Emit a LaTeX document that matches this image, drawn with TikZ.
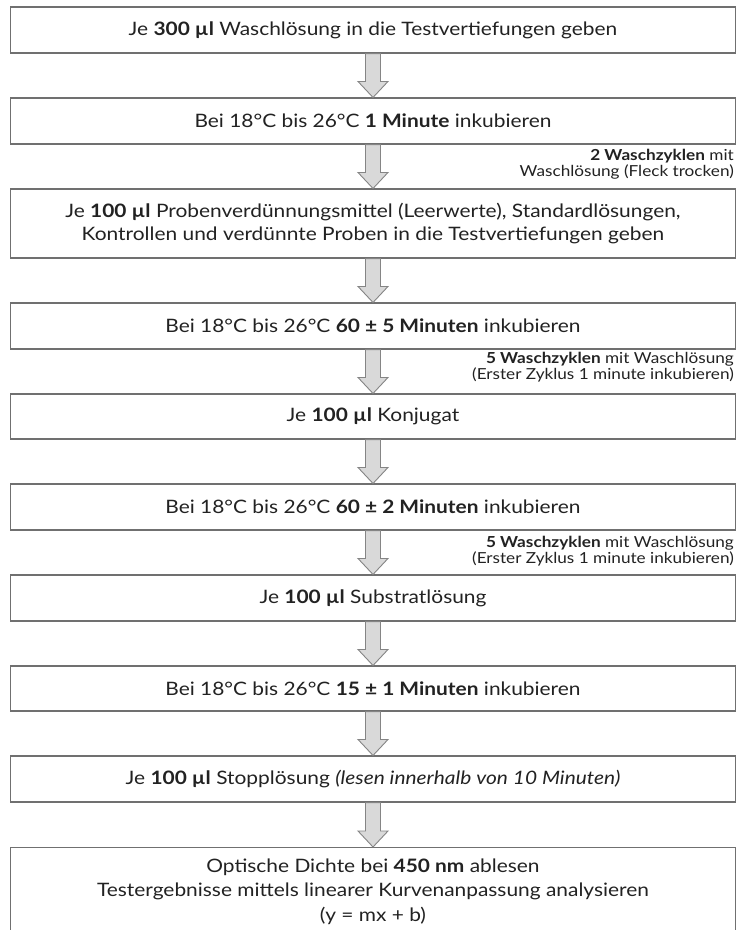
\documentclass[tikz,border=0pt]{standalone}
\usepackage{fontspec}
\setmainfont{Lato}[FakeStretch=1.13]
\usetikzlibrary{calc}
\definecolor{boxline}{HTML}{707070}
\definecolor{arrfill}{HTML}{D9D9D9}
\definecolor{arrline}{HTML}{858585}
\definecolor{txt}{HTML}{222222}
\tikzset{
  stepbox/.style={draw=boxline, line width=1.1pt, minimum width=725pt, align=center,
    text=txt, font=\fontsize{18.5}{23}\selectfont, inner sep=0pt},
  sidenote/.style={anchor=east, align=right, text=txt, font=\fontsize{15.2}{16}\selectfont, inner sep=0pt},
  flowarr/.style={draw=arrline, fill=arrfill, line width=0.9pt, line join=miter}
}
\newcommand{\flowarrow}[2]{%
  \draw[flowarr] ($(#1.south)+(-7.5,0)$) -- ($(#2.north)+(-7.5,-16)$) -- ($(#2.north)+(-15,-16)$)
    -- ($(#2.north)+(0,0)$) -- ($(#2.north)+(15,-16)$) -- ($(#2.north)+(7.5,-16)$)
    -- ($(#1.south)+(7.5,0)$) -- cycle;}
\begin{document}
\begin{tikzpicture}[x=1pt,y=-1pt]
\useasboundingbox (0,0) rectangle (736,930);
\fill[white] (0,0) rectangle (736,930);
\node[stepbox, minimum height=46pt] (b1) at (373,30) {Je \textbf{300 µl} Waschlösung in die Testvertiefungen geben};
\node[stepbox, minimum height=46pt] (b2) at (373,121) {Bei 18°C bis 26°C \textbf{1 Minute} inkubieren};
\node[stepbox, minimum height=69pt] (b3) at (373,223.5) {Je \textbf{100 µl} Probenverdünnungsmittel (Leerwerte), Standardlösungen,\\Kontrollen und verdünnte Proben in die Testvertiefungen geben};
\node[stepbox, minimum height=46pt] (b4) at (373,326) {Bei 18°C bis 26°C \textbf{60 ± 5 Minuten} inkubieren};
\node[stepbox, minimum height=45pt] (b5) at (373,416.5) {Je \textbf{100 µl} Konjugat};
\node[stepbox, minimum height=46pt] (b6) at (373,507) {Bei 18°C bis 26°C \textbf{60 ± 2 Minuten} inkubieren};
\node[stepbox, minimum height=46pt] (b7) at (373,598) {Je \textbf{100 µl} Substratlösung};
\node[stepbox, minimum height=45pt] (b8) at (373,688.5) {Bei 18°C bis 26°C \textbf{15 ± 1 Minuten} inkubieren};
\node[stepbox, minimum height=46pt] (b9) at (373,779) {Je \textbf{100 µl} Stopplösung \textit{(lesen innerhalb von 10 Minuten)}};
\node[stepbox, minimum height=88pt, anchor=north, font=\fontsize{18.5}{24.5}\selectfont] (b10) at (373,847) {Optische Dichte bei \textbf{450 nm} ablesen\\Testergebnisse mittels linearer Kurvenanpassung analysieren\\(y = mx + b)};
\flowarrow{b1}{b2}
\flowarrow{b2}{b3}
\flowarrow{b3}{b4}
\flowarrow{b4}{b5}
\flowarrow{b5}{b6}
\flowarrow{b6}{b7}
\flowarrow{b7}{b8}
\flowarrow{b8}{b9}
\flowarrow{b9}{b10}
\node[sidenote] (n1) at (734,164) {\textbf{2 Waschzyklen} mit\\Waschlösung (Fleck trocken)};
\node[sidenote] (n2) at (734,367) {\textbf{5 Waschzyklen} mit Waschlösung\\(Erster Zyklus 1 minute inkubieren)};
\node[sidenote] (n3) at (734,551) {\textbf{5 Waschzyklen} mit Waschlösung\\(Erster Zyklus 1 minute inkubieren)};
\end{tikzpicture}
\end{document}
